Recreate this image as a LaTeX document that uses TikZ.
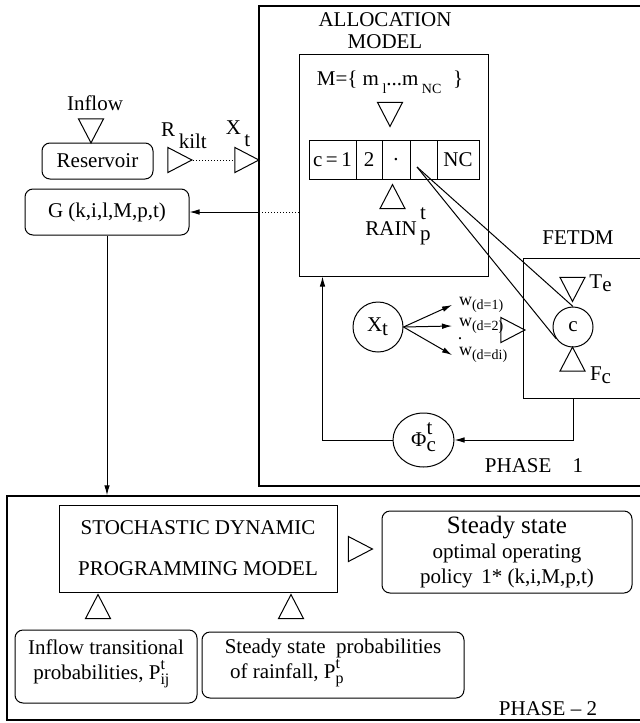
\documentclass[tikz,border=0pt]{standalone}
\usepackage{fontspec}
\setmainfont{Liberation Serif}
\usetikzlibrary{shapes.geometric,arrows.meta}
\newcommand{\ts}[3][-2pt]{\smash{\raisebox{-2.5pt}{\begin{tabular}[b]{@{}l@{}}#2\\[#1]#3\end{tabular}}}}
\begin{document}
\begin{tikzpicture}[x=0.5pt,y=-0.5pt,font=\fontsize{10.5}{12.6}\selectfont]
        \tikzstyle{block} = [rectangle, rounded corners=4pt, draw=black, text=black, line width=.5, inner sep=0pt]
        \tikzstyle{box} = [rectangle, draw=black, text=black, line width=.5, inner sep=0pt]
        \tikzstyle{frame} = [rectangle, draw=black, line width=.7, inner sep=0pt]
        \tikzstyle{cell} = [rectangle, draw=black, line width=.5, minimum height=19.5pt, inner sep=0pt]
        \tikzstyle{ring} = [circle, draw=black, line width=.5, inner sep=0pt]
        \tikzstyle{tri} = [isosceles triangle, isosceles triangle stretches, draw=black, line width=.5, inner sep=0pt, minimum width=12.5pt, minimum height=12pt]
        \tikzstyle{tridown} = [tri, shape border rotate=270]
        \tikzstyle{triup} = [tri, shape border rotate=90]
        \tikzstyle{line} = [-{Latex[length=5pt,width=2.8pt]},draw=black,line width=.5]
        \useasboundingbox (0,0) rectangle (640,723);
        % phase frames
        \node[frame, minimum width=200.5pt, minimum height=240pt] (ph1) at (459.5,246) {};
        \node[frame, minimum width=326.5pt, minimum height=112pt] (ph2) at (333.5,608) {};
        % allocation model
        \node (alloctop) at (385,20) {ALLOCATION};
        \node (allocbot) at (385,42) {MODEL};
        \node[box, minimum width=94.5pt, minimum height=111pt] (alloc) at (393.5,165) {};
        \node (mset) at (390,82) {M=\{ m\,\raisebox{-.8ex}{\scriptsize l}...m\,\raisebox{-.8ex}{\scriptsize NC}\;\;\}};
        \node[tridown] (tm) at (390,110) {};
        \node[cell, minimum width=23.5pt] (c1) at (332.5,159.5) {c\,=\,1};
        \node[cell, minimum width=13pt] (c2) at (369,159.5) {2};
        \node[cell, minimum width=14pt] (c3) at (396,159.5) {.};
        \node[cell, minimum width=13.5pt] (c4) at (423.5,159.5) {};
        \node[cell, minimum width=21pt] (c5) at (458,159.5) {NC};
        \node[triup] (train) at (392.5,201) {};
        \node (rain) at (398,229) {RAIN\,\ts{t}{p}\hspace{5pt}};
        % reservoir
        \node (inflow) at (95,103) {Inflow};
        \node[tridown] (tin) at (91,126.5) {};
        \node[block, minimum width=55.5pt, minimum height=18pt] (res) at (97.5,161) {Reservoir};
        \node[tri] (tr1) at (175.5,160) {};
        \node[tri] (tr2) at (242.5,160) {};
        \node (rk) at (184,136) {R\,\raisebox{-1.2ex}{kilt}};
        \node (xin) at (238,134) {X\,\raisebox{-1.2ex}{t}};
        \draw[densely dotted,line width=.5] (tr1.apex) to (tr2.west);
        \node[block, minimum width=82pt, minimum height=23pt] (G) at (107,212) {G (k,i,l,M,p,t)};
        \draw[densely dotted,line width=.5] (alloc.west |- G.east) to (ph1.west |- G.east);
        \draw[line] (ph1.west |- G.east) to (G.east);
        \draw[line] (G.south) to (G.south |- ph2.north);
        % demands
        \node[ring, minimum size=25pt] (xt) at (378,327) {X$_{\textrm{t}}$};
        \node[anchor=west,font=\small] (w1) at (452,305) {w$_{\textrm{\scriptsize (d=1)}}$};
        \node[anchor=west,font=\small] (w2) at (452,326) {w$_{\textrm{\scriptsize (d=2)}}$};
        \node[anchor=west,font=\small] (w3) at (452,355) {w$_{\textrm{\scriptsize (d=di)}}$};
        \node[inner sep=0pt,font=\small] (wdot) at (460,339) {.};
        \draw[line] (xt.east) to (w1.west);
        \draw[line] (xt.east) to (w2.west);
        \draw[line] (xt.east) to (w3.west);
        \node[tri] (tw) at (508.5,330) {};
        % fetdm
        \node (fetdmlab) at (578,238) {FETDM};
        \node[box, minimum width=68.5pt, minimum height=70pt] (fetdm) at (591.5,328) {};
        \node[tridown] (tte) at (572.5,285) {};
        \node (te) at (601,283) {T$_{\textrm{e}}$};
        \node[ring, minimum size=20pt] (c) at (573,327) {c};
        \node[triup] (tfc) at (572.5,363.5) {};
        \node (fc) at (601,375) {F$_{\textrm{c}}$};
        \draw[line width=.5] ([shift={(-6.5,7.5)}]c4.center) to (c.north);
        \draw[line width=.5] ([shift={(-6.5,7.5)}]c4.center) to (c.215);
        \node[ellipse, draw=black, line width=.5, inner sep=0pt, minimum width=30.5pt, minimum height=27pt] (phi) at (423.5,440) {Φ\ts[-4pt]{t}{c}\hspace{4pt}};
        \draw[line] (c |- fetdm.south) |- (phi.east);
        \draw[line] (phi.west) -| ([xshift=12pt]alloc.south west);
        \node (ph1lab) at (534,466) {PHASE\quad 1};
        % phase 2
        \node[box, minimum width=139pt, minimum height=43.5pt, align=center] (sdp) at (198,548.5) {STOCHASTIC DYNAMIC\\[8pt]PROGRAMMING MODEL};
        \node[tri] (tsdp) at (356,549) {};
        \node[block, minimum width=125pt, minimum height=41pt, align=center] (policy) at (507,552) {{\fontsize{12.5}{14}\selectfont Steady state}\\ optimal operating\\ policy\, 1* (k,i,M,p,t)};
        \node[triup] (tp1) at (98,611) {};
        \node[triup] (tp2) at (291,611) {};
        \node[block, minimum width=91pt, minimum height=36.5pt, align=left, text depth=7pt] (pij) at (106,666.5) {Inflow transitional\\ \ probabilities, P{\footnotesize\ts[-2pt]{t}{ij}}\hspace{3pt}};
        \node[block, minimum width=131pt, minimum height=33pt, align=left, text depth=6pt] (pp) at (333,665) {Steady state\ \ probabilities\\ \ of rainfall, P{\footnotesize\ts[-2pt]{t}{p}}};
        \node (ph2lab) at (548,709) {PHASE -- 2};
    \end{tikzpicture}
\end{document}
